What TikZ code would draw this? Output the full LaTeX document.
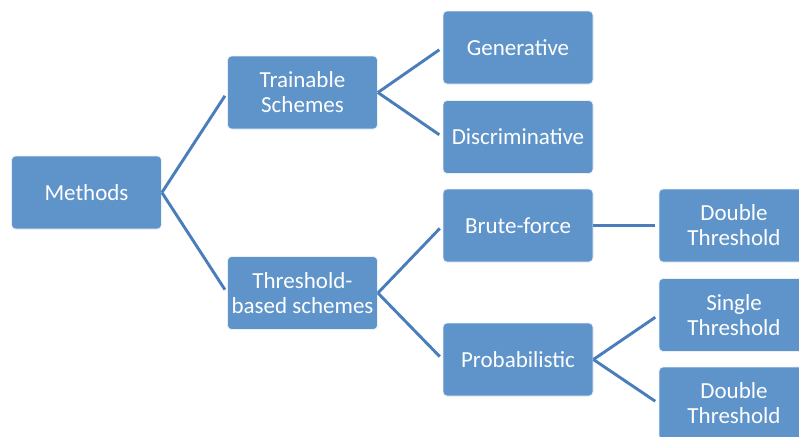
\documentclass[tikz,border=0pt]{standalone}
\usepackage{fontspec}
\setmainfont{Carlito}

\definecolor{boxblue}{RGB}{94,148,201}
\definecolor{linkblue}{RGB}{74,126,187}

\begin{document}
\begin{tikzpicture}[
        x=0.75pt,
        y=-0.75pt,
        box/.style={
            draw=white!85!boxblue,
            line width=0.6pt,
            fill=boxblue,
            rounded corners=3pt,
            minimum width=112.5pt,
            minimum height=54.75pt,
            inner sep=0pt,
            text=white,
            align=center,
            font=\fontsize{17.25}{18.75}\selectfont,
        },
        link/.style={
            draw=linkblue,
            line width=2.2pt,
            shorten >=3pt,
        },
    ]
    \useasboundingbox (0,0) rectangle (799,436);

    % Boxes.
    \node[box] (methods) at (86.5, 192.5) {Methods};
    \node[box] (trainable) at (302.5, 92.5) {Trainable\\Schemes};
    \node[box] (threshold) at (302.5, 293) {Threshold-\\based schemes};
    \node[box] (generative) at (518, 47.5) {Generative};
    \node[box] (discriminative) at (518, 137) {Discriminative};
    \node[box] (bruteforce) at (518, 225.5) {Brute-force};
    \node[box] (probabilistic) at (518, 359.5) {Probabilistic};
    \node[box] (doubleA) at (734, 225.5) {Double\\Threshold};
    \node[box] (single) at (734, 315) {Single\\Threshold};
    \node[box] (doubleB) at (734, 403.5) {Double\\Threshold};

    % Links.
    \foreach \a/\b in {methods/trainable, methods/threshold,
                       trainable/generative, trainable/discriminative,
                       threshold/bruteforce, threshold/probabilistic,
                       bruteforce/doubleA,
                       probabilistic/single, probabilistic/doubleB}
    \draw[link] (\a.east) -- (\b.west);
\end{tikzpicture}
\end{document}
